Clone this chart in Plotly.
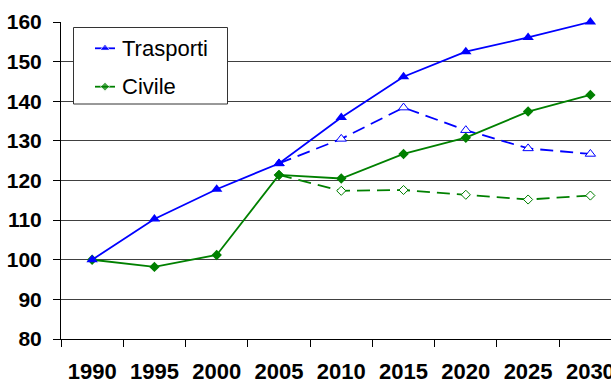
import plotly.graph_objects as go

# Index values (1990 = 100) per year
years = ["1990", "1995", "2000", "2005", "2010", "2015", "2020", "2025", "2030"]
trasporti = [100.0, 110.3, 117.8, 124.3, 135.9, 146.2, 152.5, 156.1, 160.0]
trasporti_alt = [None, None, None, 124.3, 130.5, 138.4, 132.7, 128.1, 126.7]
civile = [100.0, 98.2, 101.2, 121.4, 120.5, 126.7, 130.8, 137.4, 141.6]
civile_alt = [None, None, None, 121.4, 117.4, 117.6, 116.4, 115.2, 116.2]
y_ticks = [80, 90, 100, 110, 120, 130, 140, 150, 160]
legend_names = ["Trasporti", "Civile"]

BLUE = "#0000FF"
GREEN = "#008000"
FONT = "Liberation Sans, Arial, sans-serif"

W, H = 611, 383
L, T, B = 61, 22, 44
plot_right = W
plot_bottom = H - B
cat_w = 62.28  # pixel width of one year category
Y_MIN, Y_MAX = 80, 160
TRI, DIA = 10, 8  # marker sizes


def px_to_x(px):
    """Pixel column -> category-axis coordinate."""
    return (px - L) / cat_w - 0.5


def px_to_y(py):
    """Pixel row -> value-axis coordinate."""
    return Y_MAX - (py - T) * (Y_MAX - Y_MIN) / (plot_bottom - T)


fig = go.Figure()

# dashed scenario lines (open markers)
fig.add_trace(go.Scatter(
    x=years, y=trasporti_alt, mode="lines+markers", showlegend=False,
    cliponaxis=False,
    line=dict(color=BLUE, width=1.8, dash="13px,7px"),
    marker=dict(symbol="triangle-up", size=TRI - 1, color="white",
                line=dict(color=BLUE, width=1)),
))
fig.add_trace(go.Scatter(
    x=years, y=civile_alt, mode="lines+markers", showlegend=False,
    cliponaxis=False,
    line=dict(color=GREEN, width=1.8, dash="13px,7px"),
    marker=dict(symbol="diamond", size=DIA - 1, color="white",
                line=dict(color=GREEN, width=1)),
))
# solid lines (filled markers)
fig.add_trace(go.Scatter(
    x=years, y=civile, mode="lines+markers", showlegend=False,
    cliponaxis=False,
    line=dict(color=GREEN, width=1.8),
    marker=dict(symbol="diamond", size=DIA, color=GREEN),
))
fig.add_trace(go.Scatter(
    x=years, y=trasporti, mode="lines+markers", showlegend=False,
    cliponaxis=False,
    line=dict(color=BLUE, width=1.8),
    marker=dict(symbol="triangle-up", size=TRI, color=BLUE),
))

# legend box drawn on the main subplot, between gridlines and traces
legend_x0, legend_x1, legend_y0, legend_y1 = 73.5, 227.5, 27.5, 104
item_y = [48.3, 86.7]
legend_style = [
    (BLUE, "triangle-up", TRI - 1),
    (GREEN, "diamond", DIA - 1),
]
fig.add_shape(type="rect", xref="x", yref="y",
              x0=px_to_x(legend_x0), x1=px_to_x(legend_x1),
              y0=px_to_y(legend_y0), y1=px_to_y(legend_y1),
              line=dict(color="#333333", width=1), fillcolor="white",
              layer="between")
for name, yy, (col, sym, sz) in zip(legend_names, item_y, legend_style):
    fig.add_trace(go.Scatter(
        x=[95, 105, 115], y=[yy, yy, yy], xaxis="x2", yaxis="y2",
        mode="lines+markers", showlegend=False, hoverinfo="skip",
        line=dict(color=col, width=1.8),
        marker=dict(symbol=sym, size=[0, sz, 0], color=col),
    ))
    fig.add_annotation(xref="x2", yref="y2", x=120, y=yy, text=name,
                       showarrow=False, xanchor="left", yanchor="middle",
                       font=dict(family=FONT, size=22, color="black"))

fig.update_layout(
    width=W, height=H,
    margin=dict(l=L, r=0, t=T, b=B, pad=0, autoexpand=False),
    paper_bgcolor="white", plot_bgcolor="white",
    showlegend=False,
    xaxis=dict(
        type="category", categoryorder="array", categoryarray=years,
        range=[-0.5, px_to_x(plot_right)], automargin=False,
        tickson="boundaries", ticks="outside", ticklen=7, tickcolor="black",
        showgrid=False, showline=True, linecolor="black", linewidth=1,
        tickfont=dict(family=FONT, size=22, color="black", weight="bold"),
        ticklabeloverflow="allow", ticklabelstandoff=13,
        zeroline=False,
    ),
    yaxis=dict(
        range=[Y_MIN, Y_MAX], tickmode="array", tickvals=y_ticks,
        automargin=False,
        ticks="outside", ticklen=7, tickcolor="black",
        showgrid=True, gridcolor="#404040", gridwidth=1,
        showline=True, linecolor="black", linewidth=1,
        tickfont=dict(family=FONT, size=21, color="black", weight="bold"),
        ticklabelstandoff=7, zeroline=False,
    ),
    xaxis2=dict(overlaying="x", range=[L, plot_right], visible=False,
                fixedrange=True),
    yaxis2=dict(overlaying="y", range=[plot_bottom, T], visible=False,
                fixedrange=True),
)

fig.write_html("out.html")
